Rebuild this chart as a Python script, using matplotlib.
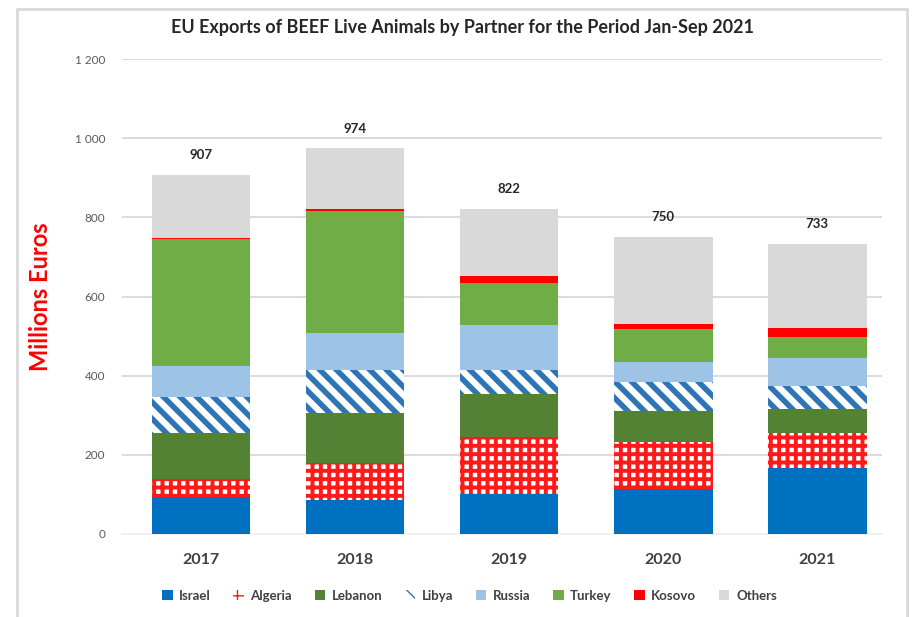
import numpy as np
import matplotlib
matplotlib.use("Agg")
import matplotlib.pyplot as plt
from matplotlib.patches import Rectangle, Patch

plt.rcParams['font.family'] = ['Lato', 'DejaVu Sans']

years = ['2017', '2018', '2019', '2020', '2021']
partners = ['Israel', 'Algeria', 'Lebanon', 'Libya', 'Russia', 'Turkey', 'Kosovo', 'Others']

israel = [94, 86, 101, 113, 166]
algeria = [45, 94, 145, 120, 88]
lebanon = [115, 125, 108, 78, 63]
libya = [93, 109, 60, 72, 57]
russia = [78, 95, 114, 52, 70]
turkey = [320, 307, 107, 82, 54]
kosovo = [4, 6, 16, 13, 23]
others = [158, 152, 171, 220, 212]

series = [israel, algeria, lebanon, libya, russia, turkey, kosovo, others]

# facecolor, hatch colour, hatch
styles = {
    'Israel': ('#0070c0', '#0070c0', None),
    'Algeria': ('white', '#ff1a1a', '++'),
    'Lebanon': ('#548235', '#548235', None),
    'Libya': ('white', '#2e75b6', '\\\\'),
    'Russia': ('#9dc3e6', '#9dc3e6', None),
    'Turkey': ('#70ad47', '#70ad47', None),
    'Kosovo': ('#ff0000', '#ff0000', None),
    'Others': ('#d9d9d9', '#d9d9d9', None),
}
hatch_lw = {'Algeria': 2.8, 'Libya': 4.0}

fig = plt.figure(figsize=(9.15, 6.17), dpi=100)
ax = fig.add_axes([122 / 915, 83 / 617, 760 / 915, 475 / 617])

x = np.arange(len(years))
bottom = np.zeros(len(years))
for name, vals in zip(partners, series):
    fc, hc, hatch = styles[name]
    bars = ax.bar(x, vals, 0.64, bottom=bottom, color=fc, edgecolor=hc,
                  linewidth=0, hatch=hatch, zorder=3)
    if hatch:
        for b in bars:
            if hasattr(b, 'set_hatch_linewidth'):
                b.set_hatch_linewidth(hatch_lw[name])
    bottom += np.array(vals)

for xi, tot in zip(x, bottom):
    ax.annotate(f'{int(tot)}', (xi, tot), xytext=(0, 10), textcoords='offset points',
                ha='center', va='bottom', fontsize=9.5, fontweight='bold', color='#262626')

ax.set_xlim(-0.513, 4.42)
ax.set_ylim(0, 1200)
ax.set_yticks(range(0, 1201, 200))
ax.set_yticklabels(['0', '200', '400', '600', '800', '1 000', '1 200'])
ax.set_xticks(x)
ax.set_xticklabels(years, fontweight='bold', fontsize=11.5, color='#404040')
ax.tick_params(axis='y', length=0, labelsize=8.5, labelcolor='#595959', pad=12)
ax.tick_params(axis='x', length=0, pad=14)
ax.grid(axis='y', color='#d9d9d9', linewidth=1.3, zorder=0)
for s in ['top', 'right', 'left']:
    ax.spines[s].set_visible(False)
ax.spines['bottom'].set_color('#f0f0f0')
ax.spines['bottom'].set_linewidth(1.3)

ax.set_ylabel('Millions Euros', color='#ff0000', fontsize=17, fontweight='bold')
ax.yaxis.set_label_coords(-0.092, 0.5)

fig.text(0.506, 0.955, 'EU Exports of BEEF Live Animals by Partner for the Period Jan-Sep 2021',
         ha='center', va='center', fontsize=13, fontweight='bold', color='#262626')

handles = []
for name in partners:
    fc, hc, hatch = styles[name]
    p = Patch(facecolor=fc, edgecolor=hc, linewidth=0, hatch=hatch, label=name)
    if hatch and hasattr(p, 'set_hatch_linewidth'):
        p.set_hatch_linewidth(hatch_lw[name])
    handles.append(p)
leg = fig.legend(handles=handles, loc='center', bbox_to_anchor=(0.513, 0.034), ncol=8,
                 frameon=False, fontsize=9.5, handlelength=0.8, handleheight=0.8,
                 columnspacing=1.7, handletextpad=0.5)
for t in leg.get_texts():
    t.set_fontweight('bold')
    t.set_color('#404040')

fig.patches.append(Rectangle((17 / 915, -0.01), 890 / 915, 1 - 9 / 617 + 0.01,
                             transform=fig.transFigure, fill=False,
                             edgecolor='#d9d9d9', linewidth=2))

fig.savefig('out.png', dpi=100)
